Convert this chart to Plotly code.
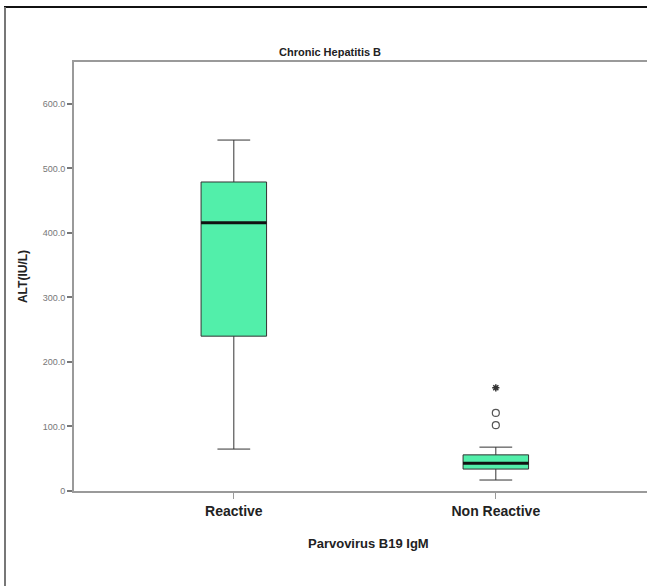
import plotly.graph_objects as go

# ---- data ----
categories = ["Reactive", "Non Reactive"]
q1 = [240, 34]
median = [416, 43]
q3 = [479, 56]
lower_whisker = [65, 17]
upper_whisker = [544, 68]
outlier_cat = [1, 1]          # mild outliers (open circles)
outlier_val = [121, 102]
extreme_cat = [1]             # extreme outliers (asterisk)
extreme_val = [160]
y_ticks = [0, 100, 200, 300, 400, 500, 600]
y_tick_text = ["0", "100.0", "200.0", "300.0", "400.0", "500.0", "600.0"]

BOX_W = 0.25
FILL = "#52EFAA"
FONT = "Liberation Sans, Arial, sans-serif"

fig = go.Figure()
xs = list(range(len(categories)))
fig.add_trace(go.Box(
    x=xs, q1=q1, median=median, q3=q3,
    lowerfence=lower_whisker, upperfence=upper_whisker,
    width=BOX_W, whiskerwidth=0.5,
    fillcolor=FILL, line=dict(color="#333333", width=1),
    boxpoints=False, showlegend=False, hoverinfo="skip",
))
fig.add_trace(go.Scatter(
    x=outlier_cat, y=outlier_val, mode="markers",
    marker=dict(symbol="circle-open", size=7, color="#555555", line=dict(width=1.2)),
    showlegend=False, hoverinfo="skip",
))
fig.add_trace(go.Scatter(
    x=extreme_cat, y=extreme_val, mode="markers",
    marker=dict(symbol="asterisk-open", size=6, color="#333333", line=dict(width=1.5)),
    showlegend=False, hoverinfo="skip",
))

# thick median lines
for i, m in zip(xs, median):
    fig.add_shape(type="line", xref="x", yref="y",
                  x0=i - BOX_W / 2, x1=i + BOX_W / 2, y0=m, y1=m,
                  line=dict(color="#111111", width=3))

# outer frame lines (decoration)
fig.add_shape(type="line", xref="paper", yref="paper",
              x0=(4 - 74) / 573, x1=1.0, y0=(491 - 7) / 429, y1=(491 - 7) / 429,
              line=dict(color="#111111", width=2))
fig.add_shape(type="line", xref="paper", yref="paper",
              x0=(5 - 74) / 573, x1=(5 - 74) / 573, y0=(491 - 7) / 429, y1=(491 - 590) / 429,
              line=dict(color="#777777", width=2))

# title and x-axis title
fig.add_annotation(text="<b>Chronic Hepatitis B</b>", xref="paper", yref="paper",
                   x=(330 - 74) / 573, y=(491 - 52) / 429, showarrow=False,
                   xanchor="center", yanchor="middle",
                   font=dict(family=FONT, size=11, color="#222222"))
fig.add_annotation(text="Parvovirus B19 IgM", xref="paper", yref="paper",
                   x=(368 - 74) / 573, y=(491 - 543) / 429, showarrow=False,
                   xanchor="center", yanchor="middle",
                   font=dict(family=FONT, size=13, color="#222222", weight="bold"))

fig.update_layout(
    width=647, height=586,
    margin=dict(l=74, r=0, t=62, b=95),
    paper_bgcolor="white", plot_bgcolor="white",
    font=dict(family=FONT),
    xaxis=dict(
        range=[-0.61, 1.577], tickvals=xs, ticktext=categories,
        showgrid=False, zeroline=False,
        showline=True, linecolor="#9a9a9a", linewidth=2, mirror=True,
        ticks="outside", ticklen=6, tickcolor="#9a9a9a", tickwidth=1,
        tickfont=dict(family=FONT, size=14, color="#222222", weight="bold"),
    ),
    yaxis=dict(
        range=[0, 665], tickvals=y_ticks, ticktext=y_tick_text,
        showgrid=False, zeroline=False,
        showline=True, linecolor="#9a9a9a", linewidth=2,
        ticks="outside", ticklen=5, tickcolor="#777777", tickwidth=1.5,
        tickfont=dict(family=FONT, size=9, color="#777777"),
        title=dict(text="ALT(IU/L)", standoff=12,
                   font=dict(family=FONT, size=12, color="#222222", weight="bold")),
    ),
)

fig.write_html("out.html", config={"displayModeBar": False})

# remove the browser's default body margin so the figure sits at (0, 0)
with open("out.html", "r", encoding="utf-8") as f:
    html = f.read()
html = html.replace("<body>", '<body style="margin:0;padding:0;overflow:hidden">', 1)
with open("out.html", "w", encoding="utf-8") as f:
    f.write(html)
